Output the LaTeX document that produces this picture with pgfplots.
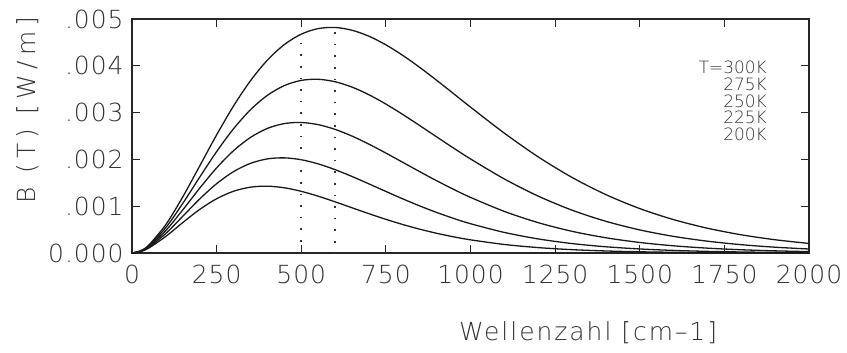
\documentclass[border=0pt]{standalone}
\usepackage{fontspec}
\setmainfont{DejaVu Sans ExtraLight}
\newfontfamily\ylblfont{DejaVu Sans ExtraLight}[LetterSpace=22]
\newfontfamily\xlblfont{DejaVu Sans ExtraLight}[LetterSpace=8]
\newfontfamily\tickfont{DejaVu Sans ExtraLight}[LetterSpace=4]
\usepackage{pgfplots}
\pgfplotsset{compat=1.18}
\usepackage{pgfplotstable}

\pgfplotstableread{
x y
0 0
25 4.590e-5
50 1.726e-4
100 6.080e-4
150 1.1991e-3
200 1.8597e-3
250 2.5236e-3
300 3.1418e-3
350 3.6812e-3
400 4.1217e-3
450 4.4539e-3
500 4.6767e-3
550 4.7953e-3
600 4.8190e-3
650 4.7601e-3
700 4.6319e-3
750 4.4481e-3
800 4.2220e-3
850 3.9657e-3
900 3.6902e-3
950 3.4049e-3
1000 3.1175e-3
1100 2.5605e-3
1200 2.0538e-3
1300 1.6145e-3
1400 1.2473e-3
1500 9.492e-4
1600 7.129e-4
1700 5.293e-4
1800 3.889e-4
1900 2.831e-4
2000 2.044e-4
}\tthreehundred

\pgfplotstableread{
x y
0 0
25 4.184e-5
50 1.564e-4
100 5.443e-4
150 1.0595e-3
200 1.6204e-3
250 2.1664e-3
300 2.6553e-3
350 3.0609e-3
400 3.3693e-3
450 3.5772e-3
500 3.6884e-3
550 3.7119e-3
600 3.6596e-3
650 3.5449e-3
700 3.3815e-3
750 3.1824e-3
800 2.9596e-3
850 2.7231e-3
900 2.4816e-3
950 2.2421e-3
1000 2.0099e-3
1100 1.5819e-3
1200 1.2155e-3
1300 9.152e-4
1400 6.771e-4
1500 4.934e-4
1600 3.548e-4
1700 2.522e-4
1800 1.774e-4
1900 1.236e-4
2000 8.55e-5
}\ttwoseventyfive

\pgfplotstableread{
x y
0 0
25 3.778e-5
50 1.403e-4
100 4.809e-4
150 9.212e-4
200 1.3849e-3
250 1.8182e-3
300 2.1862e-3
350 2.4698e-3
400 2.6623e-3
450 2.7659e-3
500 2.7888e-3
550 2.7428e-3
600 2.6414e-3
650 2.4981e-3
700 2.3257e-3
750 2.1356e-3
800 1.9371e-3
850 1.7381e-3
900 1.5444e-3
950 1.3602e-3
1000 1.1885e-3
1100 8.885e-4
1200 6.482e-4
1300 4.633e-4
1400 3.254e-4
1500 2.250e-4
1600 1.536e-4
1700 1.036e-4
1800 6.92e-5
1900 4.58e-5
2000 3.00e-5
}\ttwofifty

\pgfplotstableread{
x y
0 0
25 3.373e-5
50 1.242e-4
100 4.179e-4
150 7.846e-4
200 1.1545e-3
250 1.4815e-3
300 1.7389e-3
350 1.9154e-3
400 2.0110e-3
450 2.0330e-3
500 1.9931e-3
550 1.9046e-3
600 1.7811e-3
650 1.6350e-3
700 1.4768e-3
750 1.3152e-3
800 1.1567e-3
850 1.0061e-3
900 8.664e-4
950 7.395e-4
1000 6.261e-4
1100 4.393e-4
1200 3.008e-4
1300 2.017e-4
1400 1.329e-4
1500 8.62e-5
1600 5.52e-5
1700 3.49e-5
1800 2.19e-5
1900 1.36e-5
2000 8.4e-6
}\ttwotwentyfive

\pgfplotstableread{
x y
0 0
25 2.967e-5
50 1.081e-4
100 3.553e-4
150 6.503e-4
200 9.309e-4
250 1.1599e-3
300 1.3197e-3
350 1.4070e-3
400 1.4279e-3
450 1.3937e-3
500 1.3180e-3
550 1.2139e-3
600 1.0934e-3
650 9.662e-4
700 8.398e-4
750 7.195e-4
800 6.085e-4
850 5.089e-4
900 4.213e-4
950 3.456e-4
1000 2.813e-4
1100 1.823e-4
1200 1.152e-4
1300 7.13e-5
1400 4.34e-5
1500 2.60e-5
1600 1.54e-5
1700 9.0e-6
1800 5.2e-6
1900 3.0e-6
2000 1.7e-6
}\ttwohundred

\begin{document}
\begin{tikzpicture}
\path[use as bounding box] (-132bp,-100bp) rectangle (715bp,253bp);
\begin{axis}[
  scale only axis,
  width=677bp, height=234bp,
  xmin=0, xmax=2000, ymin=0, ymax=0.005,
  xtick={0,250,500,750,1000,1250,1500,1750,2000},
  xticklabels={0,250,500,750,1000,1250,1500,1750,2000},
  ytick={0,0.001,0.002,0.003,0.004,0.005},
  yticklabels={0.000,.001,.002,.003,.004,.005},
  scaled y ticks=false,
  /pgf/number format/assume math mode=true,
  tick align=inside,
  major tick length=8bp,
  every tick/.style={line width=1.1bp, black!85},
  axis line style={line width=1.3bp, black!85},
  xticklabel style={font=\tickfont\fontsize{25}{27}\selectfont, text=black!80, yshift=-8bp},
  yticklabel style={font=\tickfont\fontsize{25}{27}\selectfont, text=black!80, xshift=-5bp},
]
\addplot[smooth, line width=1.3bp, black!90] table {\tthreehundred};
\addplot[smooth, line width=1.3bp, black!90] table {\ttwoseventyfive};
\addplot[smooth, line width=1.3bp, black!90] table {\ttwofifty};
\addplot[smooth, line width=1.3bp, black!90] table {\ttwotwentyfive};
\addplot[smooth, line width=1.3bp, black!90] table {\ttwohundred};
\addplot[line width=1.6bp, black!80, dash pattern=on 1.6bp off 10bp] coordinates {(500,0.00449) (500,0)};
\addplot[line width=1.6bp, black!80, dash pattern=on 1.6bp off 10bp] coordinates {(600,0.00472) (600,0)};
\node[anchor=north east, align=right, inner sep=0pt, text=black!80,
      font=\fontsize{17}{16.7}\selectfont] at (axis cs:1876,0.00410)
  {T=300K\\275K\\250K\\225K\\200K};
\end{axis}
\node[rotate=90, text=black!80, font=\ylblfont\fontsize{25}{27}\selectfont] at (-104bp,143bp) {B (T) [W/m]};
\node[text=black!80, font=\xlblfont\fontsize{25}{27}\selectfont] at (456bp,-80bp) {Wellenzahl [cm–1]};
\end{tikzpicture}
\end{document}
